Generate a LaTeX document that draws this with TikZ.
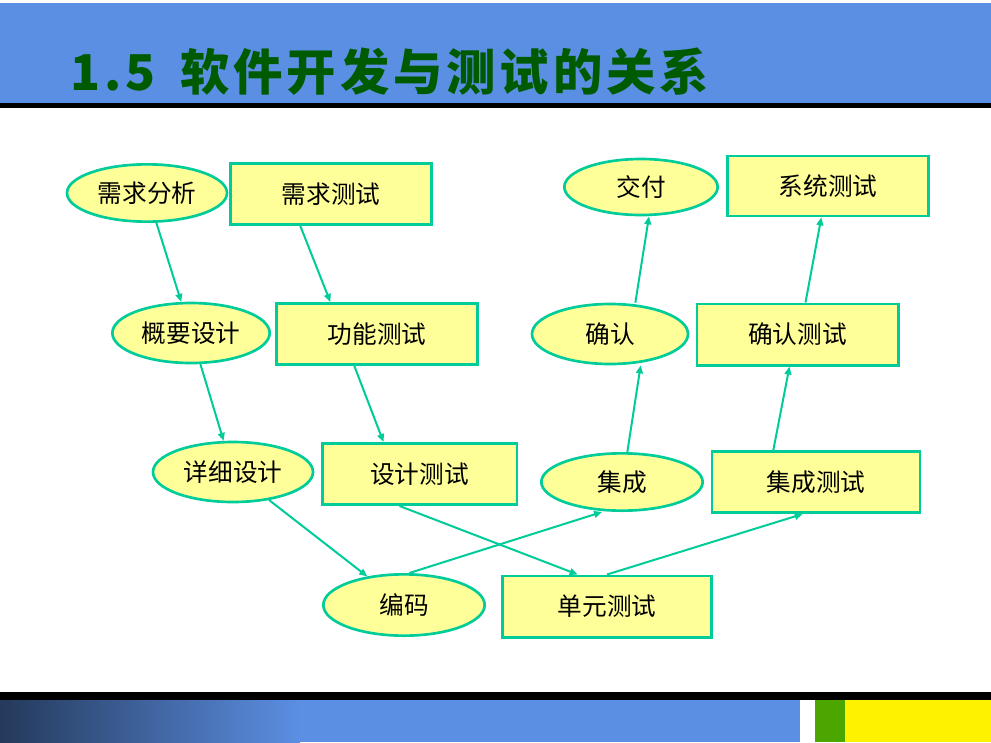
\documentclass[tikz,border=0pt]{standalone}
\usepackage{fontspec}
\newfontfamily\cjk{Noto Sans CJK SC}
\newfontfamily\titlecjk[LetterSpace=8]{Noto Sans CJK SC}
\usetikzlibrary{shapes.geometric,arrows.meta}
\definecolor{barblue}{HTML}{5B8FE3}
\definecolor{linegreen}{HTML}{00CC99}
\definecolor{boxfill}{HTML}{FFFF99}
\definecolor{titlegreen}{HTML}{005A00}
\tikzset{
  stage/.style={ellipse,draw=linegreen,line width=2pt,fill=boxfill,font=\cjk\fontsize{18.5}{18.5}\selectfont,inner sep=0pt},
  testbox/.style={rectangle,draw=linegreen,line width=2pt,fill=boxfill,font=\cjk\fontsize{18.5}{18.5}\selectfont,inner sep=0pt},
  flow/.style={draw=linegreen,line width=1.5pt,-{Triangle[length=6pt,width=5pt]}}
}
\begin{document}
\begin{tikzpicture}[x=0.75pt,y=-0.75pt]
\useasboundingbox (0,0) rectangle (991,742);
% frame
\fill[white] (0,0) rectangle (991,742);
\fill[barblue] (0,3) rectangle (991,103);
\fill[black] (0,103) rectangle (991,108);
\node[anchor=base west,text=titlegreen,font=\titlecjk\bfseries\fontsize{37}{37}\selectfont,inner sep=0pt] (title) at (70,90) {1.5\enspace 软件开发与测试的关系};
\fill[black] (0,692) rectangle (991,700);
\fill[barblue] (0,700) rectangle (800,742);
\shade[left color=barblue!40!black,right color=barblue] (0,700) rectangle (300,742);
\fill[white] (800,700) rectangle (815,742);
\fill[green!50!black!70!yellow] (815,700) rectangle (845,742);
\fill[yellow] (845,700) rectangle (991,742);
% development side
\node[stage,minimum width=120pt,minimum height=43pt] (xqfx) at (147,193) {需求分析};
\node[stage,minimum width=118pt,minimum height=45pt] (gysj) at (191,333) {概要设计};
\node[stage,minimum width=120pt,minimum height=45pt] (xxsj) at (233,472) {详细设计};
\node[stage,minimum width=121pt,minimum height=46pt] (bm) at (404,605) {编码};
\node[stage,minimum width=121pt,minimum height=43pt] (jc) at (622,482) {集成};
\node[stage,minimum width=117pt,minimum height=45pt] (qr) at (610,334) {确认};
\node[stage,minimum width=115pt,minimum height=42pt] (jf) at (641,187) {交付};
% test side
\node[testbox,minimum width=151pt,minimum height=46pt] (xqcs) at (331,194) {需求测试};
\node[testbox,minimum width=151pt,minimum height=46pt] (gncs) at (377,334) {功能测试};
\node[testbox,minimum width=146pt,minimum height=46pt] (sjcs) at (419.5,474) {设计测试};
\node[testbox,minimum width=157pt,minimum height=46pt] (dycs) at (607,606.5) {单元测试};
\node[testbox,minimum width=156pt,minimum height=46pt] (jccs) at (816,482) {集成测试};
\node[testbox,minimum width=151pt,minimum height=46pt] (qrcs) at (797.5,334.5) {确认测试};
\node[testbox,minimum width=151pt,minimum height=45pt] (xtcs) at (828,186) {系统测试};
% arrows
\draw[flow] (xqfx) -- (gysj);
\draw[flow] ([xshift=-23pt]xqcs.south) -- ([xshift=-35pt]gncs.north);
\draw[flow] (gysj) -- (xxsj);
\draw[flow] ([xshift=-17pt]gncs.south) -- ([xshift=-27pt]sjcs.north);
\draw[flow] (xxsj) -- (bm);
\draw[flow] ([xshift=-15pt]sjcs.south) -- ([xshift=-22pt]dycs.north);
\draw[flow] ([xshift=4pt]bm.north) -- ([xshift=-15pt]jc.south);
\draw[flow] (dycs.north) -- ([xshift=-10pt]jccs.south);
\draw[flow] ([xshift=4pt]jc.north) -- ([xshift=23pt]qr.south);
\draw[flow] ([xshift=-32pt]jccs.north) -- ([xshift=-6pt]qrcs.south);
\draw[flow] ([xshift=19pt]qr.north) -- ([xshift=6pt]jf.south);
\draw[flow] ([xshift=6pt]qrcs.north) -- ([xshift=-5pt]xtcs.south);
\end{tikzpicture}
\end{document}
